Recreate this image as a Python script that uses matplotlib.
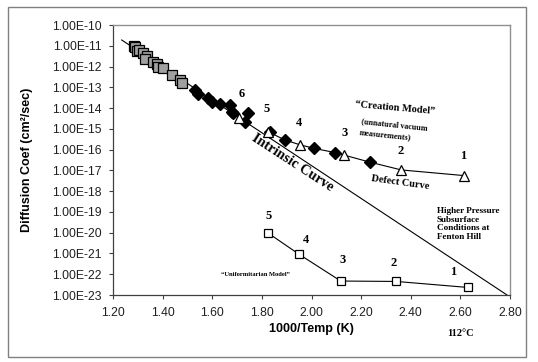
import math
import matplotlib
matplotlib.use("Agg")
import matplotlib.pyplot as plt
from matplotlib.patches import Rectangle
from matplotlib.ticker import FixedLocator, FuncFormatter, NullLocator

# gray squares (intrinsic data)
sq_x = [1.283, 1.289, 1.296, 1.305, 1.322, 1.336, 1.329, 1.363, 1.376, 1.383, 1.403, 1.437, 1.470, 1.477]
sq_y = [1.0e-11, 9.1e-12, 5.8e-12, 6.2e-12, 4.7e-12, 3.2e-12, 2.2e-12, 1.7e-12, 1.4e-12, 9.8e-13, 8.1e-13, 3.9e-13, 2.2e-13, 1.7e-13]

# black diamonds near the bend
dia_x = [1.530, 1.544, 1.584, 1.598, 1.631, 1.672, 1.678, 1.685, 1.745, 1.732]
dia_y = [7.4e-14, 4.8e-14, 2.9e-14, 2.0e-14, 1.6e-14, 1.4e-14, 6.8e-15, 5.6e-15, 5.6e-15, 2.2e-15]

# intrinsic curve end points
intr_x = [1.235, 2.788]
intr_y = [1.9e-11, 1.0e-23]

# defect curve: diamonds + triangles
def_dia_x = [1.833, 1.893, 2.010, 2.095, 2.235]
def_dia_y = [7.2e-16, 2.9e-16, 1.15e-16, 7.2e-17, 2.5e-17]
tri_x = [1.708, 1.826, 1.954, 2.130, 2.362, 2.616]
tri_y = [3.2e-15, 7.2e-16, 1.7e-16, 5.5e-17, 1.05e-17, 5.6e-18]
tri_lab = ["6", "5", "4", "3", "2", "1"]
defline_x = [1.826, 1.893, 1.954, 2.010, 2.095, 2.130, 2.235, 2.362, 2.616]
defline_y = [7.2e-16, 2.9e-16, 1.7e-16, 1.15e-16, 7.2e-17, 5.5e-17, 2.5e-17, 1.05e-17, 5.6e-18]

# uniformitarian model
uni_x = [1.823, 1.950, 2.118, 2.341, 2.632]
uni_y = [1.0e-20, 9.1e-22, 4.7e-23, 4.5e-23, 2.3e-23]
uni_lab = ["5", "4", "3", "2", "1"]

xticks = [1.2, 1.4, 1.6, 1.8, 2.0, 2.2, 2.4, 2.6, 2.8]
yticks = [10.0 ** -k for k in range(10, 24)]

fig = plt.figure(figsize=(5.38, 3.62), dpi=100)
fig.patches.append(Rectangle((8 / 538, 1 - 357 / 362), 518 / 538, 350 / 362,
                             transform=fig.transFigure, fill=False,
                             edgecolor="#808080", lw=1.0))
ax = fig.add_axes([113 / 538, 1 - 295 / 362, 397 / 538, 270 / 362])

ax.plot(intr_x, intr_y, color="black", lw=0.8, zorder=2)
ax.plot(defline_x, defline_y, color="black", lw=0.8, zorder=2)
ax.plot(uni_x, uni_y, color="black", lw=0.8, marker="s", ms=6.3,
        mfc="white", mec="black", mew=0.9, zorder=3)
ax.plot(sq_x, sq_y, ls="none", marker="s", ms=7, mfc="#a0a0a0",
        mec="black", mew=0.9, zorder=3)
ax.plot(dia_x, dia_y, ls="none", marker="D", ms=6, mfc="black",
        mec="black", zorder=3)
ax.plot(def_dia_x, def_dia_y, ls="none", marker="D", ms=6, mfc="black",
        mec="black", zorder=3)
ax.plot(tri_x, tri_y, ls="none", marker="^", ms=7, mfc="white",
        mec="black", mew=0.9, zorder=4)

serif = "Liberation Serif"
tri_off = [(2, 13), (-1.5, 12), (-1, 11.5), (0.5, 11.5), (-0.5, 9.5), (-0.5, 10)]
for x, y, t, o in zip(tri_x, tri_y, tri_lab, tri_off):
    ax.annotate(t, (x, y), xytext=o, textcoords="offset points", ha="center",
                va="bottom", fontsize=9, fontweight="bold", family=serif)
uni_off = [(0.5, 8), (5, 6), (1, 11), (-2, 9), (-11, 7)]
for x, y, t, o in zip(uni_x, uni_y, uni_lab, uni_off):
    ax.annotate(t, (x, y), xytext=o, textcoords="offset points", ha="center",
                va="bottom", fontsize=9, fontweight="bold", family=serif)

ax.set_yscale("log")
ax.set_xlim(1.2, 2.8)
ax.set_ylim(1e-23, 1e-10)
ax.xaxis.set_major_locator(FixedLocator(xticks))
ax.yaxis.set_major_locator(FixedLocator(yticks))
ax.yaxis.set_minor_locator(NullLocator())
ax.xaxis.set_major_formatter(FuncFormatter(lambda v, p: "%.2f" % v))
ax.yaxis.set_major_formatter(FuncFormatter(lambda v, p: "1.00E-%02d" % round(-math.log10(v))))
ax.tick_params(direction="out", length=3, width=0.8, color="#404040",
               labelsize=8.8, labelcolor="#202020", pad=5)
ax.tick_params(axis="x", pad=6)
for lab in ax.get_xticklabels() + ax.get_yticklabels():
    lab.set_family("Liberation Sans")
for s in ["left", "bottom"]:
    ax.spines[s].set_color("#404040")
    ax.spines[s].set_linewidth(0.9)
for s in ["top", "right"]:
    ax.spines[s].set_color("#909090")
    ax.spines[s].set_linewidth(1.0)

fig.text(27 / 538, 1 - 160 / 362, "Diffusion Coef (cm²/sec)", rotation=90,
         ha="center", va="center", fontsize=9, fontweight="bold",
         family="Liberation Sans")
fig.text(311 / 538, 1 - 329 / 362, "1000/Temp (K)", ha="center", va="center",
         fontsize=9, fontweight="bold", family="Liberation Sans")
fig.text(460 / 538, 1 - 333 / 362, "112°C", ha="center", va="center",
         fontsize=7.5, fontweight="bold", family=serif)

def px(x, y):
    return (x / 538, 1 - y / 362)

fig.text(*px(292, 163), "Intrinsic Curve", rotation=-33, ha="center",
         va="center", fontsize=10.3, fontweight="bold", family=serif)
fig.text(*px(395, 108), "\u201cCreation Model\u201d", rotation=-5, ha="center",
         va="center", fontsize=7.5, fontweight="bold", family=serif)
fig.text(*px(394, 125), "(unnatural vacuum", rotation=-6, ha="center",
         va="center", fontsize=5.8, fontweight="bold", family=serif)
fig.text(*px(385, 136), "measurements)", rotation=-6, ha="center",
         va="center", fontsize=5.8, fontweight="bold", family=serif)
fig.text(*px(400, 183), "Defect Curve", rotation=-8, ha="center",
         va="center", fontsize=7.5, fontweight="bold", family=serif)
fig.text(*px(437, 207), "Higher Pressure\nSubsurface\nConditions at\nFenton Hill",
         ha="left", va="top", fontsize=6.6, fontweight="bold", family=serif,
         linespacing=1.1)
fig.text(*px(255, 274), "\u201cUniformitarian Model\u201d", ha="center",
         va="center", fontsize=4.7, fontweight="bold", family=serif)

fig.savefig("out.png", dpi=100)
